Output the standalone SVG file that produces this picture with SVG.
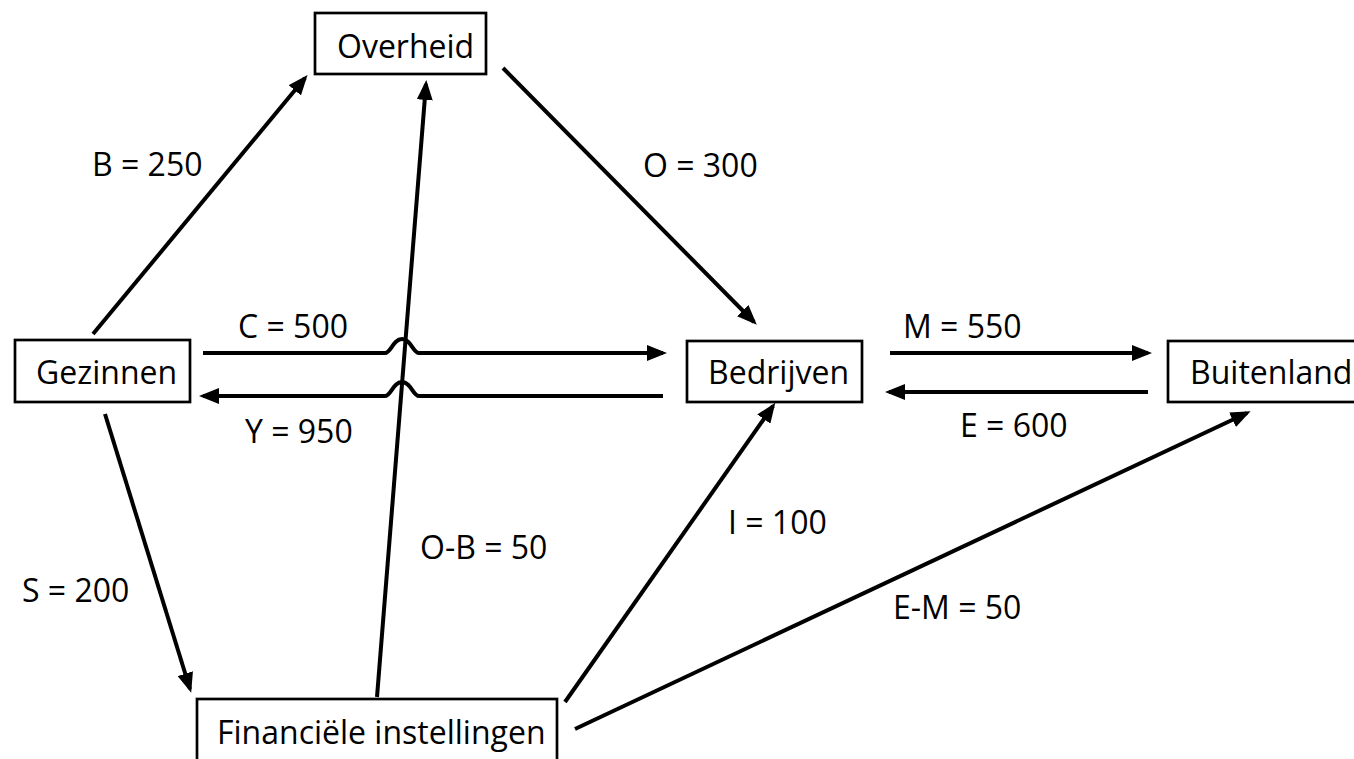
<svg xmlns="http://www.w3.org/2000/svg" width="1354" height="759" viewBox="0 0 1354 759">
<style>
.box{fill:#fff;stroke:#000;stroke-width:2.7}
.t{font-family:"Open Sans","Liberation Sans",sans-serif;font-size:32px;fill:#000}
.c{fill:none;stroke:#000;stroke-width:4}
</style>
<defs>
<marker id="ah" markerUnits="userSpaceOnUse" markerWidth="20" markerHeight="16" refX="16" refY="8" orient="auto" viewBox="0 0 20 16">
<path d="M0,0 L20,8 L0,16 z" fill="#000"/>
</marker>
</defs>
<rect width="1354" height="759" fill="#fff"/>
<g id="connectors">
<line class="c" x1="93" y1="334" x2="305" y2="78" marker-end="url(#ah)"/>
<line class="c" x1="503" y1="68" x2="754" y2="322" marker-end="url(#ah)"/>
<line class="c" x1="377" y1="697" x2="426" y2="84" marker-end="url(#ah)"/>
<path class="c" d="M203,353 L385,353 C391,353 393,339 402,339 C411,339 413,353 419,353 L663,353" marker-end="url(#ah)"/>
<path class="c" d="M663,396 L419,396 C413,396 411,382 402,382 C393,382 391,396 385,396 L203,396" marker-end="url(#ah)"/>
<line class="c" x1="890" y1="353" x2="1148" y2="353" marker-end="url(#ah)"/>
<line class="c" x1="1148" y1="392" x2="889" y2="392" marker-end="url(#ah)"/>
<line class="c" x1="105" y1="414" x2="190" y2="689" marker-end="url(#ah)"/>
<line class="c" x1="565" y1="702" x2="773" y2="406" marker-end="url(#ah)"/>
<line class="c" x1="575" y1="729" x2="1247" y2="413" marker-end="url(#ah)"/>
<g id="labels">
<text class="t" x="92" y="176">B = 250</text>
<text class="t" x="643" y="177">O = 300</text>
<text class="t" x="238" y="338">C = 500</text>
<text class="t" x="903" y="338">M = 550</text>
<text class="t" x="245" y="443">Y = 950</text>
<text class="t" x="960" y="437">E = 600</text>
<text class="t" x="420" y="559">O-B = 50</text>
<text class="t" x="728" y="534">I = 100</text>
<text class="t" x="22" y="602">S = 200</text>
<text class="t" x="893" y="619">E-M = 50</text>
</g>
</g>
<g id="overheid">
<rect class="box" x="315" y="13" width="171" height="61"/>
<text class="t" x="337" y="58">Overheid</text>
</g>
<g id="gezinnen">
<rect class="box" x="15" y="340" width="175" height="62"/>
<text class="t" x="36" y="384">Gezinnen</text>
</g>
<g id="bedrijven">
<rect class="box" x="687" y="341" width="175" height="61"/>
<text class="t" x="708" y="384">Bedrijven</text>
</g>
<g id="buitenland">
<rect class="box" x="1168" y="341" width="200" height="61"/>
<text class="t" x="1190" y="384">Buitenland</text>
</g>
<g id="financiele">
<rect class="box" x="197" y="699" width="360" height="80"/>
<text class="t" x="217" y="744">Financiële instellingen</text>
</g>
</svg>
